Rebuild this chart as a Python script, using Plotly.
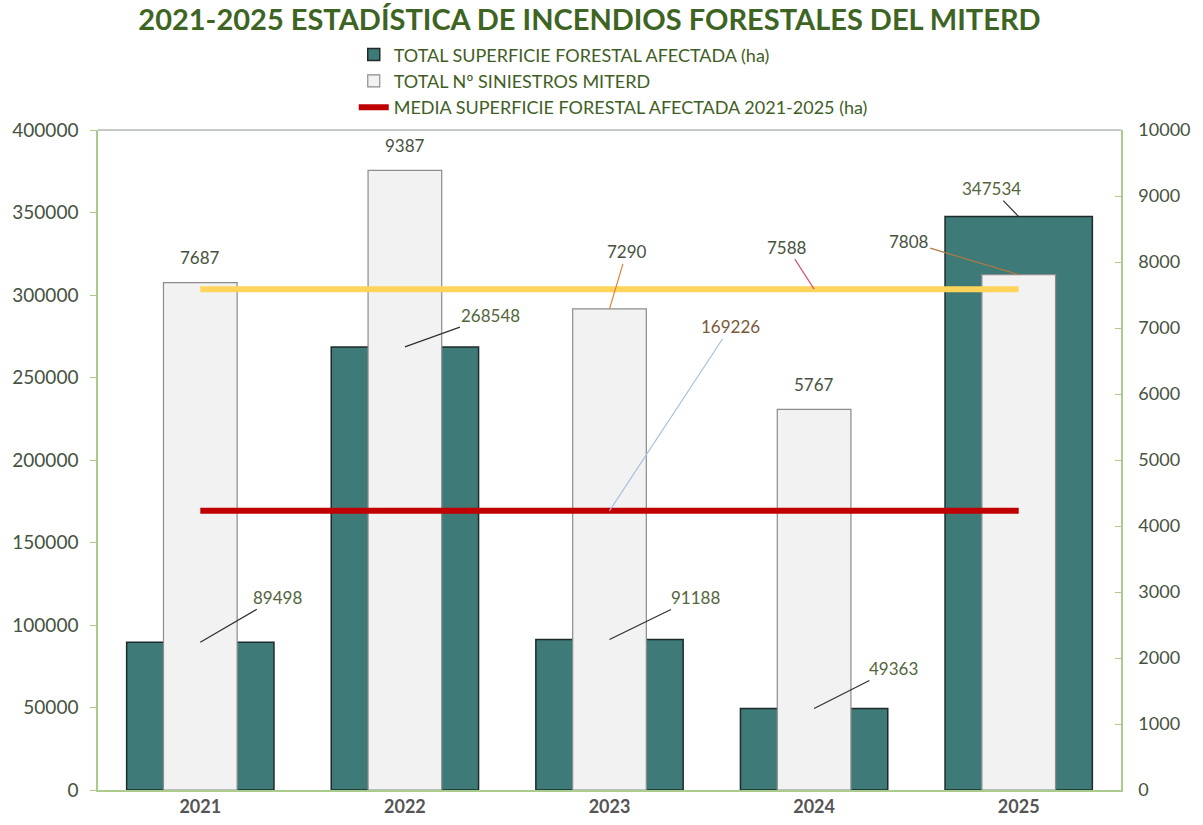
import plotly.graph_objects as go

years = ["2021", "2022", "2023", "2024", "2025"]
superficie = [89498, 268548, 91188, 49363, 347534]
siniestros = [7687, 9387, 7290, 5767, 7808]
media_superficie = 169226
media_siniestros = 7588

title = "2021-2025 ESTADÍSTICA DE INCENDIOS FORESTALES DEL MITERD"
name_sup = "TOTAL SUPERFICIE FORESTAL AFECTADA (ha)"
name_sin = "TOTAL Nº SINIESTROS MITERD"
name_media = "MEDIA SUPERFICIE FORESTAL AFECTADA 2021-2025 (ha)"

left_ticks = [0, 50000, 100000, 150000, 200000, 250000, 300000, 350000, 400000]
right_ticks = [0, 1000, 2000, 3000, 4000, 5000, 6000, 7000, 8000, 9000, 10000]

FONT = "Lato"
TEAL = "#3E7A77"
GREY_FILL = "#F2F2F2"
TXT = "#465240"
AXIS_GREEN = "#A9CC8C"

fig = go.Figure()

fig.add_trace(go.Bar(
    x=years, y=superficie, name=name_sup, yaxis="y", width=0.72,
    marker=dict(color=TEAL, line=dict(color="#1E2B2A", width=1.5)),
))
fig.add_trace(go.Bar(
    x=years, y=siniestros, name=name_sin, yaxis="y2", width=0.36,
    marker=dict(color=GREY_FILL, line=dict(color="#8C8C8C", width=1.2)),
))
fig.add_trace(go.Scatter(
    x=years, y=[media_siniestros] * len(years), yaxis="y2", mode="lines",
    line=dict(color="#FFD45A", width=6), showlegend=False, name="MEDIA SINIESTROS",
))
fig.add_trace(go.Scatter(
    x=years, y=[media_superficie] * len(years), yaxis="y3", mode="lines",
    line=dict(color="#C00000", width=6), name=name_media,
))

LBL = dict(family=FONT, size=17, color=TXT)
annotations = []
# labels above the grey bars (no leader)
for i in (0, 1, 3):
    annotations.append(dict(
        x=i, y=siniestros[i], xref="x", yref="y2", text=str(siniestros[i]),
        showarrow=False, yshift=25, font=LBL,
    ))
# grey bar labels with leader
annotations.append(dict(
    x=2, y=siniestros[2], xref="x", yref="y2", text=str(siniestros[2]),
    showarrow=True, arrowhead=0, arrowwidth=1.2, arrowcolor="#E0803A",
    ax=17, ay=-57, standoff=0, font=LBL,
))
annotations.append(dict(
    x=4, y=siniestros[4], xref="x", yref="y2", text=str(siniestros[4]),
    showarrow=True, arrowhead=0, arrowwidth=1.2, arrowcolor="#B07A40",
    ax=-110, ay=-33, standoff=0, font=LBL,
))
# teal bar labels with leaders
sup_offsets = [(77, -45), (86, -31), (86, -42), (79, -40), (-27, -28)]
for i, (ax, ay) in enumerate(sup_offsets):
    annotations.append(dict(
        x=i, y=superficie[i], xref="x", yref="y", text=str(superficie[i]),
        showarrow=True, arrowhead=0, arrowwidth=1.2, arrowcolor="#2F2F2F",
        ax=ax, ay=ay, standoff=0, font=dict(family=FONT, size=17, color="#53663C"),
    ))
# average line labels
annotations.append(dict(
    x=3, y=media_siniestros, xref="x", yref="y2", text=str(media_siniestros),
    showarrow=True, arrowhead=0, arrowwidth=1.2, arrowcolor="#E0506A",
    ax=-27, ay=-42, standoff=0, font=LBL,
))
annotations.append(dict(
    x=2, y=media_superficie, xref="x", yref="y", text=str(media_superficie),
    showarrow=True, arrowhead=0, arrowwidth=1.2, arrowcolor="#A9BEE0",
    ax=121, ay=-184, standoff=0, font=dict(family=FONT, size=17, color="#7A5A3A"),
))

fig.update_layout(
    width=1203, height=825,
    margin=dict(l=98, r=82, t=130, b=35, autoexpand=False),
    paper_bgcolor="white", plot_bgcolor="white",
    barmode="overlay",
    title=dict(text=f"<b>{title}</b>", x=0.49, xanchor="center", xref="container",
               y=0.988, yanchor="top", yref="container",
               font=dict(family=FONT, size=29, color="#3D6422")),
    font=dict(family=FONT, size=16, color=TXT),
    legend=dict(x=0.25, y=1.142, xanchor="left", yanchor="top", orientation="v",
                font=dict(family=FONT, size=18, color="#3F5E25"),
                bgcolor="rgba(0,0,0,0)", itemwidth=30, tracegroupgap=0),
    xaxis=dict(type="category", range=[-0.5, 4.5], showline=True, linecolor=AXIS_GREEN,
               linewidth=1.5, ticks="", automargin=False,
               tickfont=dict(family=FONT, size=18, color="#555555", weight="bold"),
               showgrid=False, zeroline=False),
    yaxis=dict(range=[0, 400000], tickvals=left_ticks, tickformat="d", showline=True,
               linecolor=AXIS_GREEN, linewidth=1.5, ticks="outside", tickcolor=AXIS_GREEN,
               ticklen=6, showgrid=False, zeroline=False, automargin=False,
               ticklabelstandoff=8, tickfont=dict(family=FONT, size=19, color=TXT)),
    yaxis2=dict(range=[0, 10000], tickvals=right_ticks, tickformat="d", overlaying="y",
                side="right", showline=True, linecolor=AXIS_GREEN, linewidth=1.5,
                ticks="inside", tickcolor=AXIS_GREEN, ticklen=6, showgrid=False,
                zeroline=False, ticklabelstandoff=12, automargin=False,
                tickfont=dict(family=FONT, size=18, color=TXT)),
    yaxis3=dict(range=[0, 400000], overlaying="y", visible=False),
    annotations=annotations,
    shapes=[dict(type="line", xref="paper", yref="paper", x0=0, x1=1, y0=1, y1=1,
                 line=dict(color="#8A958A", width=1.2))],
)

fig.write_html("out.html", config={"displayModeBar": False},
               post_script="document.body.style.margin='0';")
